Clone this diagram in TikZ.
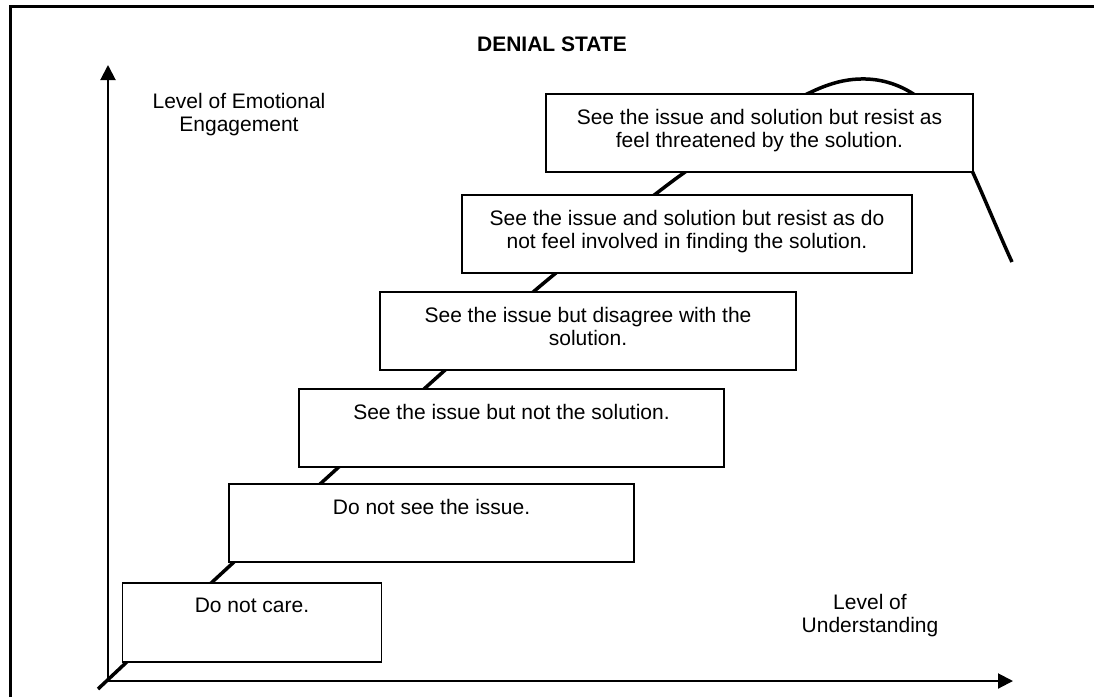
\documentclass[tikz,border=0pt]{standalone}
\usepackage{fontspec}
\setmainfont{Liberation Sans}
\usetikzlibrary{positioning,arrows.meta}
\tikzstyle{stage}=[%
      rectangle, draw=black, line width=1.8pt, fill=white,
      inner sep=0pt
]
\tikzstyle{stagetext}=[%
      anchor=north, yshift=-15.7pt, align=center, inner sep=0pt,
      font=\fontsize{21}{23}\selectfont
]
\tikzstyle{caption}=[%
      anchor=north, align=center, inner sep=0pt,
      font=\fontsize{21}{23}\selectfont
]
\tikzstyle{axis}=[%
      line width=2pt, line join=miter,
      {Triangle[length=15pt,width=15pt]}-{Triangle[length=15pt,width=15pt]}
]

\begin{document}
\begin{tikzpicture}[x=1pt, y=-1pt]
    \useasboundingbox (0,0) rectangle (1094,697);
    % frame
    \draw[line width=3pt] (10.5,697) -- (10.5,6.5) -- (1094,6.5);

    % rising curve, behind the steps
    \draw[line width=3.5pt] plot[smooth] coordinates {(98,689) (222,573) (330,475) (434,380) (545,282) (670,183) (740,135)}
        .. controls (800,95) and (830,78) .. (866,79)
        .. controls (900,80) and (935,100) .. (962,150)
        .. controls (973,170) and (998,232) .. (1012,262);

    % axes
    \coordinate (origin) at (108,681);
    \coordinate (ytip) at (108,65);
    \coordinate (xtip) at (1013,681);
    \draw[axis] (ytip) -- (origin) -- (xtip);

    % steps
    \node[stage, minimum width=259pt, minimum height=79pt,
          label={[stagetext]north:Do not care.}] (care) at (252,622.5) {};
    \node[stage, minimum width=405pt, minimum height=78pt,
          label={[stagetext]north:Do not see the issue.}] (noissue) at (431.5,523) {};
    \node[stage, minimum width=425pt, minimum height=78pt,
          label={[stagetext]north:See the issue but not the solution.}] (issue) at (511.5,428) {};
    \node[stage, minimum width=416pt, minimum height=78pt,
          label={[stagetext]north:See the issue but disagree with the\\solution.}] (disagree) at (588,331) {};
    \node[stage, minimum width=450pt, minimum height=78pt,
          label={[stagetext]north:See the issue and solution but resist as do\\not feel involved in finding the solution.}] (involved) at (687,234) {};
    \node[stage, minimum width=427pt, minimum height=78pt,
          label={[stagetext]north:See the issue and solution but resist as\\feel threatened by the solution.}] (threatened) at (759.5,133) {};

    % captions
    \node[caption] (title) at (552,37) {\bfseries DENIAL STATE};
    \node[caption] (engagement) at (239,92.7) {Level of Emotional\\Engagement};
    \node[caption] (understanding) at (870,593.7) {Level of\\Understanding};
\end{tikzpicture}
\end{document}
